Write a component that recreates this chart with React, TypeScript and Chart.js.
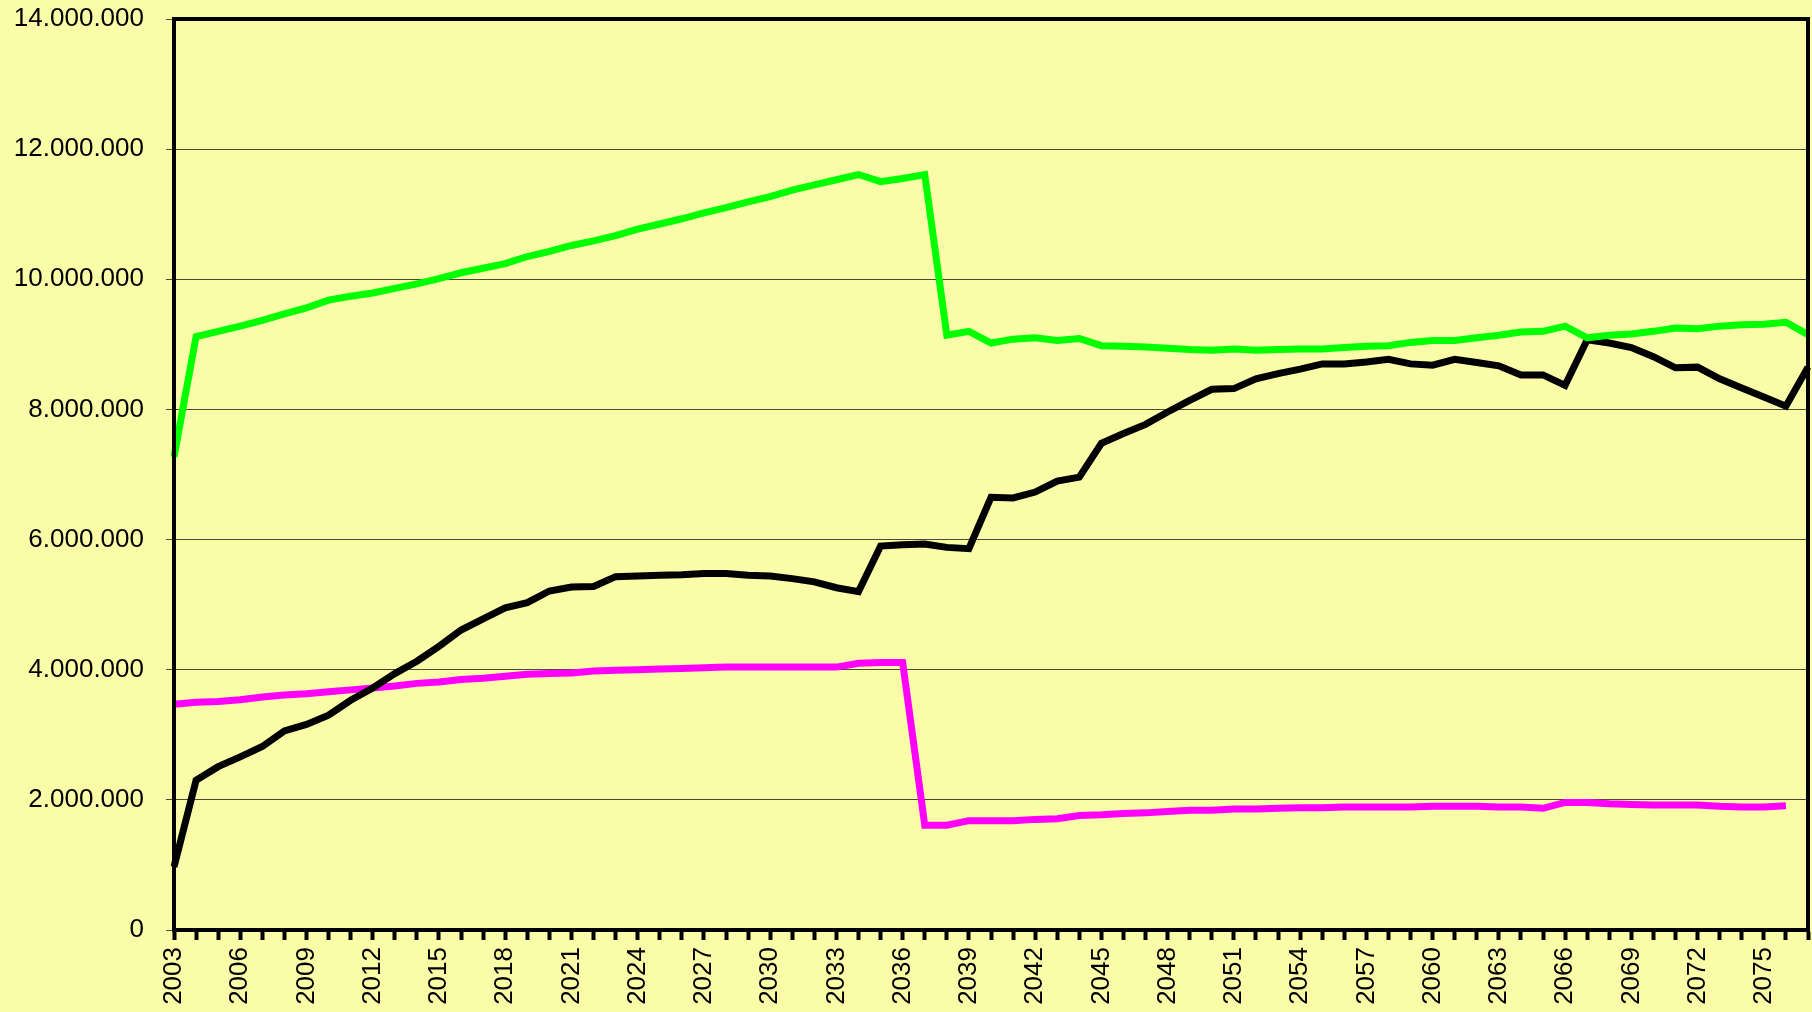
import React, { useEffect, useRef } from "react";
import { Chart, registerables } from "chart.js";

Chart.register(...registerables);

const years: string[] = [];
for (let y = 2003; y <= 2077; y++) years.push(String(y));

const greenSeries: (number | null)[] = [
  7.27, 9.12, 9.20, 9.28, 9.37, 9.47, 9.56, 9.68, 9.74, 9.79,
  9.86, 9.93, 10.01, 10.10, 10.17, 10.24, 10.35, 10.43, 10.52, 10.59,
  10.67, 10.77, 10.85, 10.93, 11.02, 11.10, 11.19, 11.27, 11.37, 11.45,
  11.53, 11.61, 11.50, 11.55, 11.61, 9.14, 9.20, 9.02, 9.08, 9.10,
  9.06, 9.09, 8.98, 8.97, 8.96, 8.94, 8.92, 8.91, 8.93, 8.91,
  8.92, 8.93, 8.93, 8.95, 8.97, 8.98, 9.03, 9.06, 9.06, 9.10,
  9.14, 9.19, 9.20, 9.28, 9.10, 9.14, 9.16, 9.20, 9.25, 9.24,
  9.28, 9.30, 9.31, 9.34, 9.15,
];

const blackSeries: (number | null)[] = [
  0.97, 2.30, 2.51, 2.66, 2.82, 3.06, 3.16, 3.30, 3.53, 3.72,
  3.94, 4.13, 4.36, 4.61, 4.78, 4.95, 5.03, 5.21, 5.27, 5.28,
  5.43, 5.44, 5.45, 5.46, 5.48, 5.48, 5.45, 5.44, 5.40, 5.35,
  5.26, 5.20, 5.90, 5.92, 5.93, 5.88, 5.86, 6.65, 6.64, 6.73,
  6.90, 6.96, 7.48, 7.63, 7.77, 7.96, 8.14, 8.31, 8.32, 8.47,
  8.55, 8.62, 8.70, 8.70, 8.73, 8.77, 8.70, 8.68, 8.77, 8.72,
  8.67, 8.53, 8.53, 8.37, 9.07, 9.02, 8.95, 8.81, 8.64, 8.65,
  8.47, 8.33, 8.19, 8.05, 8.65,
];

const pinkSeries: (number | null)[] = [
  3.47, 3.50, 3.51, 3.54, 3.58, 3.61, 3.63, 3.66, 3.69, 3.72,
  3.75, 3.79, 3.81, 3.85, 3.87, 3.90, 3.93, 3.94, 3.95, 3.98,
  3.99, 4.00, 4.01, 4.02, 4.03, 4.04, 4.04, 4.04, 4.04, 4.04,
  4.04, 4.10, 4.11, 4.11, 1.61, 1.61, 1.68, 1.68, 1.68, 1.70,
  1.71, 1.76, 1.77, 1.79, 1.80, 1.82, 1.84, 1.84, 1.86, 1.86,
  1.87, 1.88, 1.88, 1.89, 1.89, 1.89, 1.89, 1.90, 1.90, 1.90,
  1.89, 1.89, 1.87, 1.96, 1.96, 1.94, 1.93, 1.92, 1.92, 1.92,
  1.90, 1.89, 1.89, 1.91, null,
];

const MILLION = 1000000;
const toAbs = (arr: (number | null)[]) => arr.map((v) => (v === null ? null : Math.round(v * MILLION)));

const BG = "#FAFCA8";
const FONT = "'Liberation Sans', Arial, sans-serif";

function fmt(v: number): string {
  const s = String(Math.round(v));
  return s.replace(/\B(?=(\d{3})+(?!\d))/g, ".");
}

const framePlugin = {
  id: "frame",
  afterDraw(chart: any) {
    const { ctx, chartArea } = chart;
    ctx.save();
    ctx.strokeStyle = "#000";
    ctx.lineWidth = 4;
    ctx.strokeRect(chartArea.left, chartArea.top, chartArea.right - chartArea.left, chartArea.bottom - chartArea.top);
    ctx.restore();
  },
};

export default function App() {
  const ref = useRef<HTMLCanvasElement>(null);
  useEffect(() => {
    if (!ref.current) return;
    const chart = new Chart(ref.current, {
      type: "line",
      data: {
        labels: years,
        datasets: [
          { label: "green", data: toAbs(greenSeries), borderColor: "#00FF00", borderWidth: 7, pointRadius: 0, tension: 0, borderJoinStyle: "miter" },
          { label: "black", data: toAbs(blackSeries), borderColor: "#000000", borderWidth: 7, pointRadius: 0, tension: 0, borderJoinStyle: "miter" },
          { label: "pink", data: toAbs(pinkSeries), borderColor: "#FF00FF", borderWidth: 7, pointRadius: 0, tension: 0, borderJoinStyle: "miter" },
        ],
      },
      options: {
        responsive: false,
        animation: false,
        devicePixelRatio: 1,
        layout: { padding: { top: 19, right: 4, bottom: 0, left: 0 } },
        plugins: { legend: { display: false }, tooltip: { enabled: false } },
        scales: {
          x: {
            type: "category",
            offset: false,
            grid: {
              display: true,
              drawOnChartArea: false,
              drawTicks: true,
              tickLength: 10,
              tickWidth: 4,
              tickColor: "#000",
            },
            border: { display: true, color: "#000", width: 4 },
            ticks: {
              autoSkip: false,
              maxRotation: 90,
              minRotation: 90,
              padding: 7,
              color: "#000",
              font: { family: FONT, size: 26 },
              callback: (_v: any, i: number) => (i % 3 === 0 ? years[i] : ""),
            },
            afterFit: (scale: any) => {
              scale.height = 82;
              scale.paddingLeft = 0;
              scale.paddingRight = 0;
            },
          },
          y: {
            min: 0,
            max: 14 * MILLION,
            grid: {
              color: "#4a4a3a",
              lineWidth: 1,
              tickLength: 8,
              tickColor: "#4a4a3a",
            },
            border: { display: true, color: "#000", width: 4 },
            ticks: {
              stepSize: 2 * MILLION,
              padding: 22,
              color: "#000",
              font: { family: FONT, size: 26 },
              callback: (v: any) => fmt(Number(v)),
            },
            afterFit: (scale: any) => {
              scale.width = 174;
              scale.paddingTop = 0;
              scale.paddingBottom = 0;
            },
          },
        },
      },
      plugins: [framePlugin],
    });
    return () => chart.destroy();
  }, []);
  return (
    <div style={{ position: "fixed", left: 0, top: 0, width: 1812, height: 1012, background: BG }}>
      <canvas ref={ref} width={1812} height={1012} style={{ display: "block" }} />
    </div>
  );
}
